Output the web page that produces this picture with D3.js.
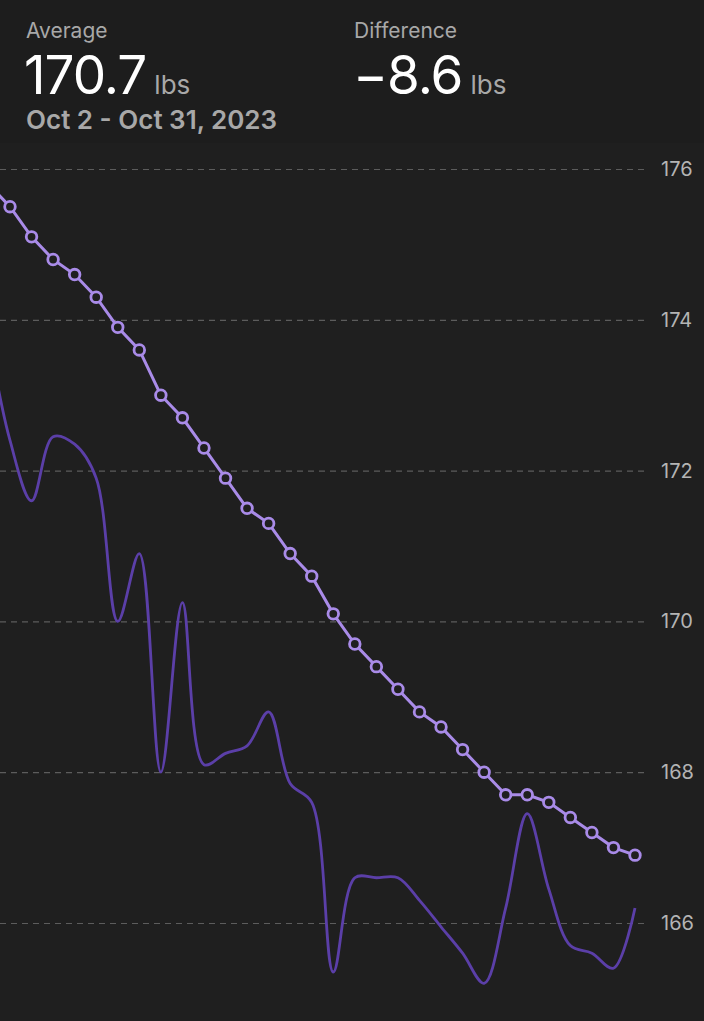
<!DOCTYPE html>
<html>
<head>
<meta charset="utf-8">
<script src="https://cdn.jsdelivr.net/npm/d3@7"></script>
<style>
  html, body { margin: 0; padding: 0; background: #1f1f1f; }
  svg { display: block; }
  text { font-family: Inter, "Noto Sans", sans-serif; }
</style>
</head>
<body>
<svg id="chart"></svg>
<script>
// days shown (Oct 1 sits just off the left edge)
var days = ["2023-10-01","2023-10-02","2023-10-03","2023-10-04","2023-10-05","2023-10-06",
  "2023-10-07","2023-10-08","2023-10-09","2023-10-10","2023-10-11","2023-10-12",
  "2023-10-13","2023-10-14","2023-10-15","2023-10-16","2023-10-17","2023-10-18",
  "2023-10-19","2023-10-20","2023-10-21","2023-10-22","2023-10-23","2023-10-24",
  "2023-10-25","2023-10-26","2023-10-27","2023-10-28","2023-10-29","2023-10-30","2023-10-31"];

// daily scale readings (lbs)
var rawWeight = [173.8, 172.4, 171.6, 172.45, 172.35, 171.9, 170.0, 170.9, 168.0, 170.25,
  168.1, 168.25, 168.35, 168.8, 167.85, 167.6, 165.35, 166.6, 166.6, 166.6,
  166.3, 165.95, 165.6, 165.2, 166.2, 167.45, 166.45, 165.7, 165.6, 165.4, 166.2];

// smoothed trend (lbs)
var trendWeight = [175.8, 175.5, 175.1, 174.8, 174.6, 174.3, 173.9, 173.6, 173.0, 172.7,
  172.3, 171.9, 171.5, 171.3, 170.9, 170.6, 170.1, 169.7, 169.4, 169.1,
  168.8, 168.6, 168.3, 168.0, 167.7, 167.7, 167.6, 167.4, 167.2, 167.0, 166.9];

var yTicks = [166, 168, 170, 172, 174, 176];

var averageValue = 170.7;
var differenceValue = -8.6;
var unit = "lbs";
var rangeLabel = "Oct 2 - Oct 31, 2023";

var width = 704;
var height = 1021;

var parse = d3.timeParse("%Y-%m-%d");
var data = days.map(function(d, i) {
  return { date: parse(d), raw: rawWeight[i], trend: trendWeight[i] };
});

var svg = d3.select("#chart")
  .attr("width", width)
  .attr("height", height);

svg.append("rect")
  .attr("width", width).attr("height", height)
  .attr("fill", "#1f1f1f");
svg.append("rect")
  .attr("width", width).attr("height", 143)
  .attr("fill", "#1d1d1d");

var x = d3.scaleTime()
  .domain([parse("2023-10-02"), parse("2023-10-31")])
  .range([10, 635]);

var y = d3.scaleLinear()
  .domain([166, 176])
  .range([923, 169]);

// grid + labels
var yAxis = d3.axisRight(y)
  .tickValues(yTicks)
  .tickSize(646)
  .tickPadding(15)
  .tickFormat(d3.format("d"));

var gy = svg.append("g").attr("class", "y-axis").call(yAxis);
gy.select(".domain").remove();
gy.selectAll(".tick line")
  .attr("stroke", "#5c5c5c")
  .attr("stroke-width", 1.2)
  .attr("stroke-dasharray", "6,5");
gy.selectAll(".tick text")
  .attr("fill", "#b4b4b4")
  .attr("font-size", 20)
  .attr("font-family", "Inter, sans-serif");

// raw line
var rawLine = d3.line()
  .x(function(d) { return x(d.date); })
  .y(function(d) { return y(d.raw); })
  .curve(d3.curveCatmullRom.alpha(0.5));

svg.append("path")
  .datum(data)
  .attr("fill", "none")
  .attr("stroke", "#5b3fa8")
  .attr("stroke-width", 2.8)
  .attr("d", rawLine);

// trend line
var trendLine = d3.line()
  .x(function(d) { return x(d.date); })
  .y(function(d) { return y(d.trend); });

svg.append("path")
  .datum(data)
  .attr("fill", "none")
  .attr("stroke", "#a98be8")
  .attr("stroke-width", 3)
  .attr("d", trendLine);

svg.append("g").selectAll("circle")
  .data(data)
  .enter().append("circle")
  .attr("cx", function(d) { return x(d.date); })
  .attr("cy", function(d) { return y(d.trend); })
  .attr("r", 5.3)
  .attr("fill", "#1f1f1f")
  .attr("stroke", "#a98be8")
  .attr("stroke-width", 2.8);

// header
var fmt = d3.format(".1f");
var head = svg.append("g");

head.append("text").attr("x", 26).attr("y", 38)
  .attr("font-size", 21).attr("fill", "#a8a8a8")
  .text("Average");

var avg = head.append("text").attr("x", 24).attr("y", 94);
avg.append("tspan").attr("font-size", 53).attr("fill", "#ffffff").attr("letter-spacing", -1)
  .text(fmt(averageValue));
avg.append("tspan").attr("dx", 8).attr("font-size", 26).attr("fill", "#a8a8a8")
  .text(unit);

head.append("text").attr("x", 26).attr("y", 129)
  .attr("font-size", 26).attr("font-weight", 600).attr("fill", "#a8a8a8")
  .text(rangeLabel);

head.append("text").attr("x", 354).attr("y", 38)
  .attr("font-size", 21).attr("fill", "#a8a8a8")
  .text("Difference");

var diff = head.append("text").attr("x", 353).attr("y", 94);
diff.append("tspan").attr("font-size", 53).attr("fill", "#ffffff").attr("letter-spacing", -1)
  .text(fmt(differenceValue));
diff.append("tspan").attr("dx", 8).attr("font-size", 26).attr("fill", "#a8a8a8")
  .text(unit);
</script>
</body>
</html>
